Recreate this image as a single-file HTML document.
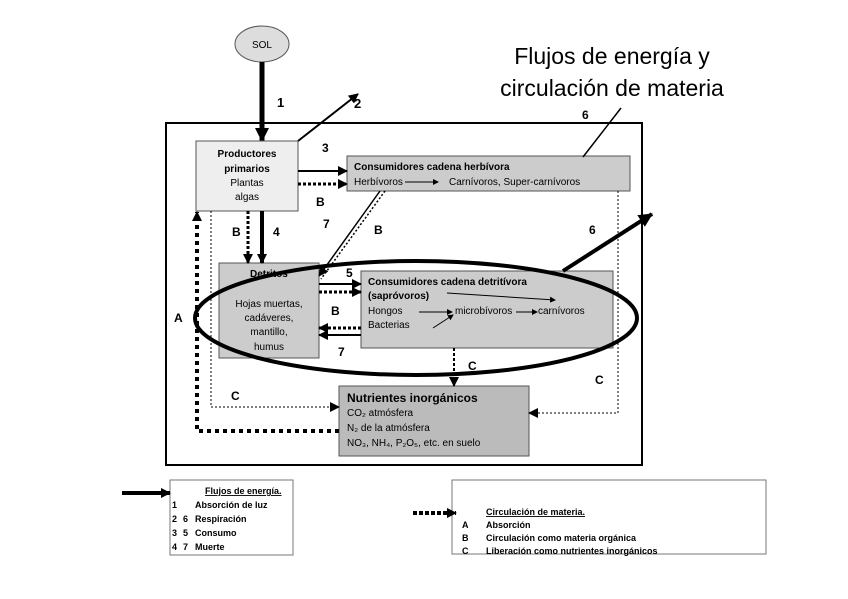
<!DOCTYPE html>
<html><head><meta charset="utf-8"><style>
body{margin:0;background:#fff}
svg{display:block;font-family:"Liberation Sans",sans-serif}
.b{font-weight:bold}
</style></head><body>
<svg width="848" height="599" viewBox="0 0 848 599" xmlns="http://www.w3.org/2000/svg">
<defs>
<marker id="ah" markerWidth="6" markerHeight="6" refX="5" refY="3" orient="auto" markerUnits="strokeWidth"><path d="M0,0 L6,3 L0,6 z" fill="#000"/></marker>
<marker id="as" markerWidth="10" markerHeight="10" refX="9" refY="5" orient="auto" markerUnits="userSpaceOnUse"><path d="M0,0 L10,5 L0,10 z" fill="#000"/></marker>
<marker id="am" markerWidth="14" markerHeight="14" refX="13" refY="7" orient="auto" markerUnits="userSpaceOnUse"><path d="M0,0 L14,7 L0,14 z" fill="#000"/></marker>
</defs>
<text x="612" y="64" font-size="23" text-anchor="middle">Flujos de energía y</text>
<text x="612" y="96" font-size="23" text-anchor="middle">circulación de materia</text>
<ellipse cx="262" cy="44" rx="27" ry="18" fill="#ddd" stroke="#555"/>
<text x="262" y="48" font-size="10" text-anchor="middle">SOL</text>
<line x1="262" y1="62" x2="262" y2="141" stroke="#000" stroke-width="5" marker-end="url(#am)"/>
<text x="277" y="107" font-size="13" class="b">1</text>
<line x1="298" y1="141" x2="358" y2="94" stroke="#000" stroke-width="2" marker-end="url(#as)"/>
<text x="354" y="108" font-size="13" class="b">2</text>
<rect x="166" y="123" width="476" height="342" fill="none" stroke="#000" stroke-width="2"/>
<rect x="196" y="141" width="102" height="70" fill="#eee" stroke="#555"/>
<text x="247" y="157" font-size="10" class="b" text-anchor="middle">Productores</text>
<text x="247" y="172" font-size="10" class="b" text-anchor="middle">primarios</text>
<text x="247" y="186" font-size="10" text-anchor="middle">Plantas</text>
<text x="247" y="200" font-size="10" text-anchor="middle">algas</text>
<rect x="347" y="156" width="283" height="35" fill="#ccc" stroke="#555"/>
<text x="354" y="170" font-size="10" class="b">Consumidores cadena herbívora</text>
<text x="354" y="185" font-size="10">Herbívoros</text>
<line x1="405" y1="182" x2="438" y2="182" stroke="#000" marker-end="url(#ah)"/>
<text x="449" y="185" font-size="10">Carnívoros, Super-carnívoros</text>
<rect x="219" y="263" width="100" height="95" fill="#ccc" stroke="#555"/>
<text x="250" y="277" font-size="10" class="b">Detritos</text>
<text x="269" y="307" font-size="10" text-anchor="middle">Hojas muertas,</text>
<text x="269" y="321" font-size="10" text-anchor="middle">cadáveres,</text>
<text x="269" y="335" font-size="10" text-anchor="middle">mantillo,</text>
<text x="269" y="350" font-size="10" text-anchor="middle">humus</text>
<rect x="361" y="271" width="252" height="77" fill="#ccc" stroke="#555"/>
<text x="368" y="285" font-size="10" class="b">Consumidores cadena detritívora</text>
<text x="368" y="299" font-size="10" class="b">(sapróvoros)</text>
<line x1="447" y1="293" x2="555" y2="300" stroke="#000" marker-end="url(#ah)"/>
<text x="368" y="314" font-size="10">Hongos</text>
<text x="368" y="328" font-size="10">Bacterias</text>
<line x1="419" y1="312" x2="452" y2="312" stroke="#000" marker-end="url(#ah)"/>
<line x1="433" y1="328" x2="453" y2="315" stroke="#000" marker-end="url(#ah)"/>
<text x="455" y="314" font-size="10">microbívoros</text>
<line x1="516" y1="312" x2="537" y2="312" stroke="#000" marker-end="url(#ah)"/>
<text x="538" y="314" font-size="10">carnívoros</text>
<rect x="339" y="386" width="190" height="70" fill="#bbb" stroke="#555"/>
<text x="347" y="402" font-size="12" class="b">Nutrientes inorgánicos</text>
<text x="347" y="416" font-size="10">CO₂ atmósfera</text>
<text x="347" y="431" font-size="10">N₂ de la atmósfera</text>
<text x="347" y="446" font-size="10">NO₃, NH₄, P₂O₅, etc. en suelo</text>
<ellipse cx="416" cy="318" rx="221" ry="57" fill="none" stroke="#000" stroke-width="4"/>
<line x1="298" y1="171" x2="347" y2="171" stroke="#000" stroke-width="2" marker-end="url(#as)"/>
<line x1="298" y1="184" x2="347" y2="184" stroke="#000" stroke-width="3" stroke-dasharray="3,2" marker-end="url(#as)"/>
<text x="322" y="152" font-size="12" class="b">3</text>
<text x="316" y="206" font-size="12" class="b">B</text>
<line x1="583" y1="157" x2="621" y2="108" stroke="#000" stroke-width="1.5"/>
<text x="582" y="119" font-size="12" class="b">6</text>
<line x1="262" y1="211" x2="262" y2="263" stroke="#000" stroke-width="4" marker-end="url(#as)"/>
<line x1="248" y1="211" x2="248" y2="263" stroke="#000" stroke-width="3" stroke-dasharray="3,2" marker-end="url(#as)"/>
<text x="232" y="236" font-size="12" class="b">B</text>
<text x="273" y="236" font-size="12" class="b">4</text>
<line x1="380" y1="191" x2="319" y2="276" stroke="#000" stroke-width="1.5" marker-end="url(#as)"/>
<line x1="385" y1="191" x2="321" y2="279" stroke="#000" stroke-width="1.5" stroke-dasharray="2,2"/>
<text x="323" y="228" font-size="12" class="b">7</text>
<text x="374" y="234" font-size="12" class="b">B</text>
<line x1="563" y1="271" x2="652" y2="214" stroke="#000" stroke-width="4" marker-end="url(#am)"/>
<text x="589" y="234" font-size="12" class="b">6</text>
<line x1="319" y1="284" x2="361" y2="284" stroke="#000" stroke-width="2" marker-end="url(#as)"/>
<line x1="319" y1="292" x2="361" y2="292" stroke="#000" stroke-width="3" stroke-dasharray="3,2" marker-end="url(#as)"/>
<text x="346" y="277" font-size="12" class="b">5</text>
<line x1="361" y1="328" x2="319" y2="328" stroke="#000" stroke-width="3" stroke-dasharray="3,2" marker-end="url(#as)"/>
<line x1="361" y1="335" x2="319" y2="335" stroke="#000" stroke-width="2" marker-end="url(#as)"/>
<text x="331" y="315" font-size="12" class="b">B</text>
<text x="338" y="356" font-size="12" class="b">7</text>
<line x1="454" y1="348" x2="454" y2="386" stroke="#000" stroke-width="2" stroke-dasharray="3,2" marker-end="url(#as)"/>
<text x="468" y="370" font-size="12" class="b">C</text>
<polyline points="211,211 211,407 339,407" fill="none" stroke="#000" stroke-width="1" stroke-dasharray="2,2" marker-end="url(#as)"/>
<text x="231" y="400" font-size="12" class="b">C</text>
<polyline points="618,191 618,413 529,413" fill="none" stroke="#000" stroke-width="1" stroke-dasharray="2,2" marker-end="url(#as)"/>
<text x="595" y="384" font-size="12" class="b">C</text>
<polyline points="339,431 197,431 197,212" fill="none" stroke="#000" stroke-width="4" stroke-dasharray="4,4" marker-end="url(#as)"/>
<text x="174" y="322" font-size="12" class="b">A</text>
<rect x="170" y="480" width="123" height="75" fill="#fff" stroke="#777"/>
<line x1="122" y1="493" x2="170" y2="493" stroke="#000" stroke-width="4" marker-end="url(#as)"/>
<text x="205" y="494" font-size="9" class="b" text-decoration="underline">Flujos de energía.</text>
<text x="172" y="508" font-size="9" class="b">1</text><text x="195" y="508" font-size="9" class="b">Absorción de luz</text>
<text x="172" y="522" font-size="9" class="b">2</text><text x="183" y="522" font-size="9" class="b">6</text><text x="195" y="522" font-size="9" class="b">Respiración</text>
<text x="172" y="536" font-size="9" class="b">3</text><text x="183" y="536" font-size="9" class="b">5</text><text x="195" y="536" font-size="9" class="b">Consumo</text>
<text x="172" y="550" font-size="9" class="b">4</text><text x="183" y="550" font-size="9" class="b">7</text><text x="195" y="550" font-size="9" class="b">Muerte</text>
<rect x="452" y="480" width="314" height="74" fill="#fff" stroke="#777"/>
<line x1="413" y1="513" x2="456" y2="513" stroke="#000" stroke-width="4" stroke-dasharray="4,2" marker-end="url(#as)"/>
<text x="486" y="515" font-size="9" class="b" text-decoration="underline">Circulación de materia.</text>
<text x="462" y="528" font-size="9" class="b">A</text><text x="486" y="528" font-size="9" class="b">Absorción</text>
<text x="462" y="541" font-size="9" class="b">B</text><text x="486" y="541" font-size="9" class="b">Circulación como materia orgánica</text>
<text x="462" y="554" font-size="9" class="b">C</text><text x="486" y="554" font-size="9" class="b">Liberación como nutrientes inorgánicos</text>
</svg>
</body></html>
